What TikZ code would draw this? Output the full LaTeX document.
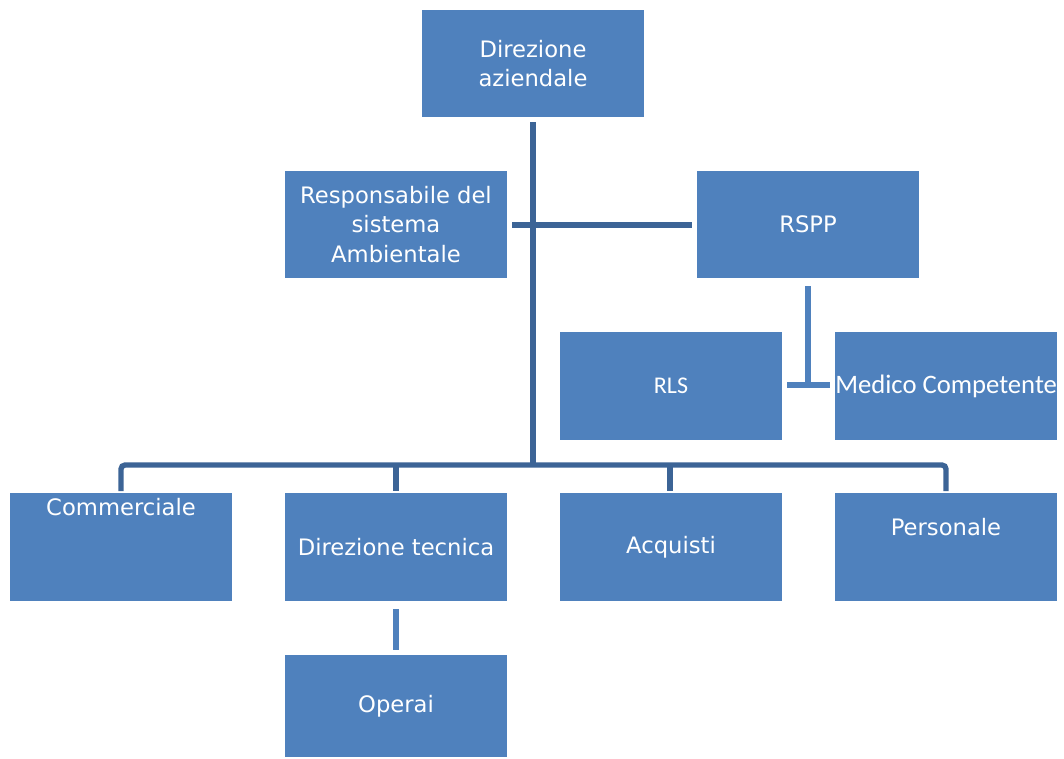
\documentclass[tikz,border=0pt]{standalone}
\usepackage{fontspec}
\setmainfont{DejaVu Sans}
\newfontfamily\calfont{Carlito}
\definecolor{boxblue}{HTML}{4F81BD}
\definecolor{linedark}{HTML}{3C6496}
\begin{document}
\begin{tikzpicture}[x=0.75pt,y=-0.75pt,
  box/.style={fill=boxblue,draw=none,minimum width=166.5pt,minimum height=80.5pt,inner sep=0pt,align=center,text=white,font=\fontsize{17}{22}\selectfont},
  lbl/.style={text=white,inner sep=0pt,font=\fontsize{17}{22}\selectfont},
  conn/.style={draw=linedark,line width=4pt},
  connl/.style={draw=boxblue,line width=4pt}]
\useasboundingbox (0,0) rectangle (1064,758);
\node[box] (dir) at (533,63.5) {Direzione\\aziendale};
\node[box] (resp) at (396,224.5) {Responsabile del\\sistema\\Ambientale};
\node[box] (rspp) at (808,224.5) {RSPP};
\node[box,font=\calfont\fontsize{18}{22}\selectfont] (rls) at (671,386) {RLS};
\node[box] (med) at (946,386) {};
\node[anchor=west,lbl,font=\calfont\fontsize{20}{24}\selectfont] (medt) at (835,386) {Medico Competente};
\node[box] (comm) at (121,547) {};
\node[lbl] (commt) at (121,507) {Commerciale};
\node[box] (tec) at (396,547) {Direzione tecnica};
\node[box] (acq) at (671,547) {Acquisti};
\node[box] (pers) at (946,547) {};
\node[lbl] (perst) at (946,527) {Personale};
\node[box,minimum height=76.5pt] (op) at (396,706) {Operai};
% connectors
\coordinate (top) at (533,122);
\coordinate (bus) at (533,465);
\draw[conn] (top) -- (bus);
\coordinate (hl) at (512,225);
\coordinate (hr) at (692,225);
\draw[conn,line width=3.8pt] (hl) -- (hr);
\draw[conn,rounded corners=3pt] (121,491) -- (121,465) -- (946,465) -- (946,491);
\draw[conn] (396,465) -- (396,491);
\draw[conn] (670,465) -- (670,491);
\coordinate (rsppdown) at (808,286);
\coordinate (tjoin) at (808,385);
\draw[connl] (rsppdown) -- (tjoin);
\draw[connl] (787,385) -- (830,385);
\coordinate (opup) at (396,609);
\coordinate (opdown) at (396,650);
\draw[connl] (opup) -- (opdown);
\end{tikzpicture}
\end{document}
